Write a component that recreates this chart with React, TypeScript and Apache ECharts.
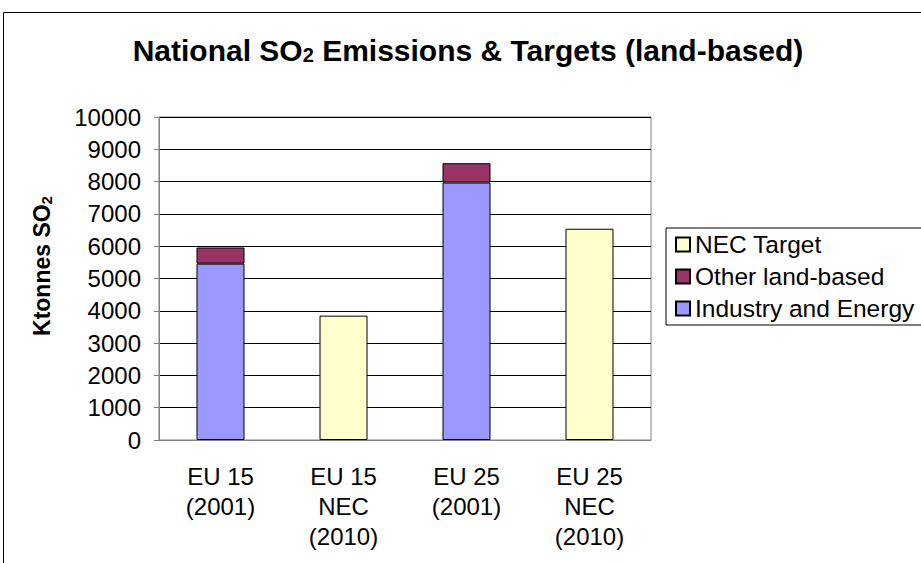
import React, { useEffect, useRef } from "react";
import * as echarts from "echarts";

// Categories and stacked values (ktonnes SO2)
const categories = ["EU 15\n(2001)", "EU 15\nNEC\n(2010)", "EU 25\n(2001)", "EU 25\nNEC\n(2010)"];
const industryEnergy = [5460, null, 7970, null];
const otherLandBased = [500, null, 600, null];
const necTarget = [null, 3850, null, 6540];
const yTicks = { min: 0, max: 10000, interval: 1000 };

const FONT = "'Liberation Sans', Arial, sans-serif";

export default function App() {
  const ref = useRef<HTMLDivElement>(null);

  useEffect(() => {
    if (!ref.current) return;
    const chart = echarts.init(ref.current, undefined, { renderer: "svg" });
    const barBorder = { borderColor: "#000", borderWidth: 1 };
    chart.setOption({
      animation: false,
      backgroundColor: "#fff",
      textStyle: { fontFamily: FONT, color: "#000" },
      graphic: [
        {
          type: "rect",
          shape: { x: 3.5, y: 12.5, width: 1000, height: 1000 },
          style: { fill: "none", stroke: "#000", lineWidth: 1 },
          silent: true,
        },
        {
          type: "text",
          x: 468,
          y: 50,
          style: {
            text: "{a|National SO}{s|2}{a| Emissions & Targets (land-based)}",
            align: "center",
            verticalAlign: "middle",
            rich: {
              a: { fontFamily: FONT, fontSize: 30, fontWeight: "bold", fill: "#000" },
              s: { fontFamily: FONT, fontSize: 20, fontWeight: "bold", fill: "#000", verticalAlign: "bottom" },
            },
          },
        },
        {
          type: "text",
          x: 42,
          y: 266,
          rotation: Math.PI / 2,
          style: {
            text: "{a|Ktonnes SO}{s|2}",
            align: "center",
            verticalAlign: "middle",
            rich: {
              a: { fontFamily: FONT, fontSize: 23, fontWeight: "bold", fill: "#000" },
              s: { fontFamily: FONT, fontSize: 15, fontWeight: "bold", fill: "#000", verticalAlign: "bottom" },
            },
          },
        },
      ],
      grid: { left: 159, top: 117, right: 270, bottom: 123, show: true, borderColor: "#808080", borderWidth: 1 },
      legend: {
        orient: "vertical",
        left: 666,
        top: 228,
        padding: [4, 10, 4, 9],
        itemGap: 7,
        itemWidth: 14,
        itemHeight: 14,
        borderColor: "#000",
        borderWidth: 1,
        icon: "rect",
        data: ["NEC Target", "Other land-based", "Industry and Energy"],
        textStyle: { fontFamily: FONT, fontSize: 24.5, color: "#000" },
      },
      xAxis: {
        type: "category",
        data: categories,
        axisLine: { lineStyle: { color: "#808080" } },
        axisTick: { length: 6, lineStyle: { color: "#808080" } },
        axisLabel: { fontFamily: FONT, fontSize: 24, color: "#000", lineHeight: 30, margin: 21 },
      },
      yAxis: {
        type: "value",
        min: yTicks.min,
        max: yTicks.max,
        interval: yTicks.interval,
        axisLine: { show: true, lineStyle: { color: "#808080" } },
        axisTick: { show: true, length: 5, lineStyle: { color: "#808080" } },
        axisLabel: {
          fontFamily: FONT,
          fontSize: 24,
          color: "#000",
          margin: 18,
          formatter: (v: number) => String(v),
        },
        splitLine: { lineStyle: { color: "#000", width: 1 } },
      },
      series: [
        {
          name: "Industry and Energy",
          type: "bar",
          stack: "total",
          barWidth: 48,
          data: industryEnergy.map((v) => (v === null ? "-" : v)),
          itemStyle: { color: "#9999FF", ...barBorder },
        },
        {
          name: "Other land-based",
          type: "bar",
          stack: "total",
          barWidth: 48,
          data: otherLandBased.map((v) => (v === null ? "-" : v)),
          itemStyle: { color: "#993366", ...barBorder },
        },
        {
          name: "NEC Target",
          type: "bar",
          stack: "total",
          barWidth: 48,
          data: necTarget.map((v) => (v === null ? "-" : v)),
          itemStyle: { color: "#FFFFCC", ...barBorder },
        },
      ],
    });
    return () => chart.dispose();
  }, []);

  return (
    <div
      ref={ref}
      style={{ position: "fixed", left: 0, top: 0, width: 921, height: 563, background: "#fff" }}
    />
  );
}
